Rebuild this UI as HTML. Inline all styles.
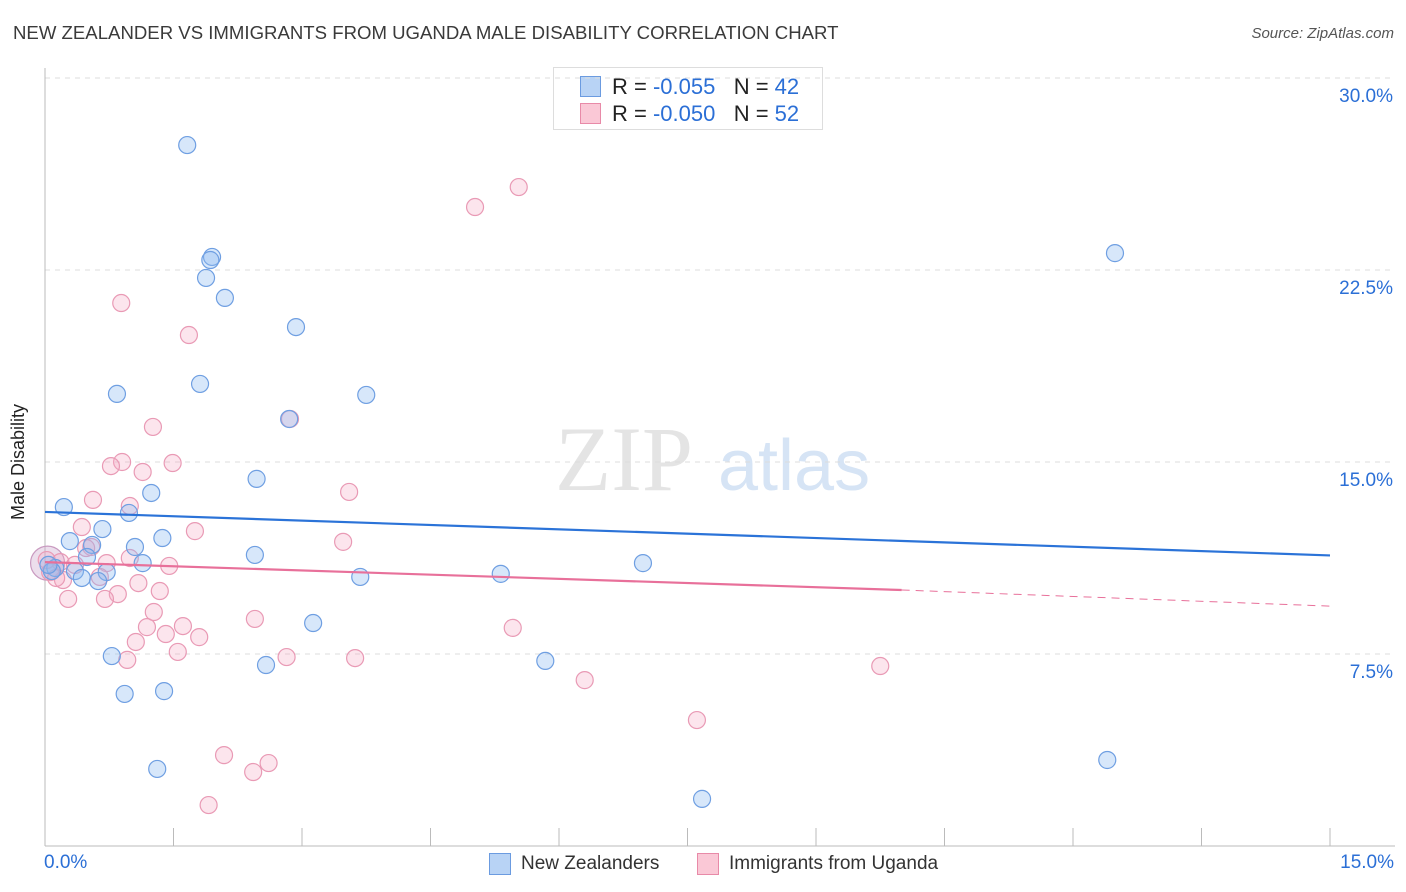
<!DOCTYPE html>
<html><head><meta charset="utf-8">
<style>
body{margin:0;background:#fff;font-family:"Liberation Sans",sans-serif;}
#wrap{position:relative;width:1406px;height:892px;overflow:hidden;}
.t{position:absolute;white-space:nowrap;}
</style></head>
<body>
<div id="wrap">
<div class="t" style="left:13px;top:22px;font-size:18.6px;color:#3a3a3a;">NEW ZEALANDER VS IMMIGRANTS FROM UGANDA MALE DISABILITY CORRELATION CHART</div>
<div class="t" style="right:12px;top:25px;font-size:15px;color:#555;font-style:italic;">Source: ZipAtlas.com</div>
<div class="t" style="left:553px;top:67px;width:270px;height:63px;border:1px solid #ddd;background:#fff;box-sizing:border-box;">
  <div class="t" style="left:26px;top:8px;width:21px;height:21px;background:#b8d3f5;border:1px solid #6b9be0;box-sizing:border-box;"></div>
  <div class="t" style="left:58px;top:6px;font-size:22px;color:#222;">R = <span style="color:#2b6fd6">-0.055</span>&nbsp;&nbsp;&nbsp;N = <span style="color:#2b6fd6">42</span></div>
  <div class="t" style="left:26px;top:35px;width:21px;height:21px;background:#fac8d6;border:1px solid #e88aa8;box-sizing:border-box;"></div>
  <div class="t" style="left:58px;top:33px;font-size:22px;color:#222;">R = <span style="color:#2b6fd6">-0.050</span>&nbsp;&nbsp;&nbsp;N = <span style="color:#2b6fd6">52</span></div>
</div>
<div class="t" style="left:489px;top:853px;width:22px;height:22px;background:#b8d3f5;border:1px solid #6b9be0;box-sizing:border-box;"></div>
<div class="t" style="left:521px;top:853px;font-size:19px;color:#333;">New Zealanders</div>
<div class="t" style="left:697px;top:853px;width:22px;height:22px;background:#fac8d6;border:1px solid #e88aa8;box-sizing:border-box;"></div>
<div class="t" style="left:729px;top:853px;font-size:19px;color:#333;">Immigrants from Uganda</div>
<div class="t" style="left:44px;top:852px;font-size:19px;color:#2b6fd6;">0.0%</div>
<div class="t" style="right:12px;top:852px;font-size:19px;color:#2b6fd6;">15.0%</div>
<div class="t" style="left:8px;top:520px;font-size:18px;color:#222;transform:rotate(-90deg);transform-origin:0 0;">Male Disability</div>
<svg id="plot" width="1406" height="892" style="position:absolute;left:0;top:0;"></svg>
</div>
<script>
const blueX=[1.66,1.95,1.93,1.88,2.10,2.93,1.81,0.84,3.75,2.85,2.47,1.24,0.22,0.98,0.67,1.37,0.29,0.55,1.05,2.45,0.49,1.14,6.98,0.12,0.08,0.72,0.35,0.43,0.62,3.68,5.32,3.13,0.78,2.58,5.84,0.93,1.39,1.31,12.40,7.67,12.49,0.04];
const blueY=[27.38,23.01,22.89,22.19,21.41,20.27,18.05,17.66,17.62,16.68,14.34,13.79,13.24,13.01,12.38,12.03,11.91,11.76,11.68,11.37,11.29,11.05,11.05,10.86,10.74,10.70,10.74,10.47,10.35,10.51,10.63,8.71,7.42,7.07,7.23,5.94,6.05,3.01,3.36,1.84,23.16,10.98];
const pinkX=[5.53,5.02,0.89,1.68,1.26,2.86,0.90,0.77,1.49,1.14,0.56,3.55,0.99,0.43,1.75,3.48,0.54,0.99,0.18,1.45,0.72,0.21,1.09,0.85,1.34,0.70,0.27,1.27,2.45,1.19,1.61,1.41,1.80,5.46,1.06,1.55,2.82,3.62,0.96,9.75,6.30,7.61,2.09,2.61,2.43,1.91,0.06,0.13,0.48,0.64,0.35,0.02];
const pinkY=[25.74,24.96,21.21,19.96,16.37,16.68,15.0,14.84,14.96,14.61,13.52,13.83,13.28,12.46,12.30,11.88,11.68,11.25,11.09,10.94,11.05,10.39,10.27,9.84,9.96,9.65,9.65,9.14,8.87,8.55,8.59,8.28,8.16,8.52,7.97,7.58,7.38,7.34,7.27,7.03,6.48,4.92,3.55,3.24,2.89,1.60,10.70,10.47,11.64,10.51,10.98,11.17];
const blueTrend=[13.05,11.35];
const pinkTrend=[11.09,9.37];
const pinkSolidEnd=10.0;
const yTicks=[7.5,15.0,22.5,30.0];
const yTickLabels=["7.5%","15.0%","22.5%","30.0%"];

const svg=document.getElementById('plot');
const NS='http://www.w3.org/2000/svg';
const X0=45,X1=1330,Y0=846,Y30=78;
const sx=v=>X0+(v/15)*(X1-X0);
const sy=v=>Y0-(v/30)*(Y0-Y30);
function mk(tag,attrs){const e=document.createElementNS(NS,tag);for(const k in attrs)e.setAttribute(k,attrs[k]);svg.appendChild(e);return e;}

let wm=mk('text',{x:555,y:490,'font-size':92,fill:'#e4e4e4','font-family':'Liberation Serif, serif'});
wm.textContent='ZIP';


let wm2=mk('text',{x:718,y:490,'font-size':72,fill:'#d6e4f5','font-family':'Liberation Sans, sans-serif'});
wm2.textContent='atlas';



yTicks.forEach((t,i)=>{
  const g=mk('line',{x1:X0,x2:1395,y1:sy(t),y2:sy(t),stroke:'#dcdcdc','stroke-dasharray':'5,5'});
  
  
  const l=mk('text',{x:1393,y:sy(t)+24,'text-anchor':'end','font-size':19,fill:'#2b6fd6','font-family':'Liberation Sans, sans-serif'});
  l.textContent=yTickLabels[i];
  
  
});
let ax=mk('line',{x1:X0,x2:X0,y1:68,y2:Y0,stroke:'#bbb'});


let bx=mk('line',{x1:X0,x2:1395,y1:Y0,y2:Y0,stroke:'#bbb'});


for(let i=0;i<=10;i++){
  const tk=mk('line',{x1:sx(i*1.5),x2:sx(i*1.5),y1:828,y2:Y0,stroke:'#bbb'});
  
  
}
function dots(xs,ys,fill,stroke,name){
  xs.forEach((x,i)=>{
    const c=mk('circle',{cx:sx(x),cy:sy(ys[i]),r:8.5,fill:fill,stroke:stroke,'stroke-width':1.2});
    
    
  });
}
let big=mk('circle',{cx:sx(0.03),cy:sy(11.05),r:17,fill:'rgba(200,160,200,0.35)',stroke:'#c99ac0','stroke-width':1.2});


dots(pinkX,pinkY,'rgba(246,170,195,0.3)','#e99ab5','uganda-point');
dots(blueX,blueY,'rgba(140,185,240,0.35)','#6f9fe2','new-zealander-point');
let bt=mk('line',{x1:sx(0),y1:sy(blueTrend[0]),x2:sx(15),y2:sy(blueTrend[1]),stroke:'#2b73d8','stroke-width':2.2});


let pt=mk('line',{x1:sx(0),y1:sy(pinkTrend[0]),x2:sx(10),y2:sy(pinkSolidEnd),stroke:'#e8709a','stroke-width':2.2});


let pd=mk('line',{x1:sx(10),y1:sy(pinkSolidEnd),x2:sx(15),y2:sy(pinkTrend[1]),stroke:'#e8709a','stroke-width':1,'stroke-dasharray':'8,6'});


</script>
</body></html>
